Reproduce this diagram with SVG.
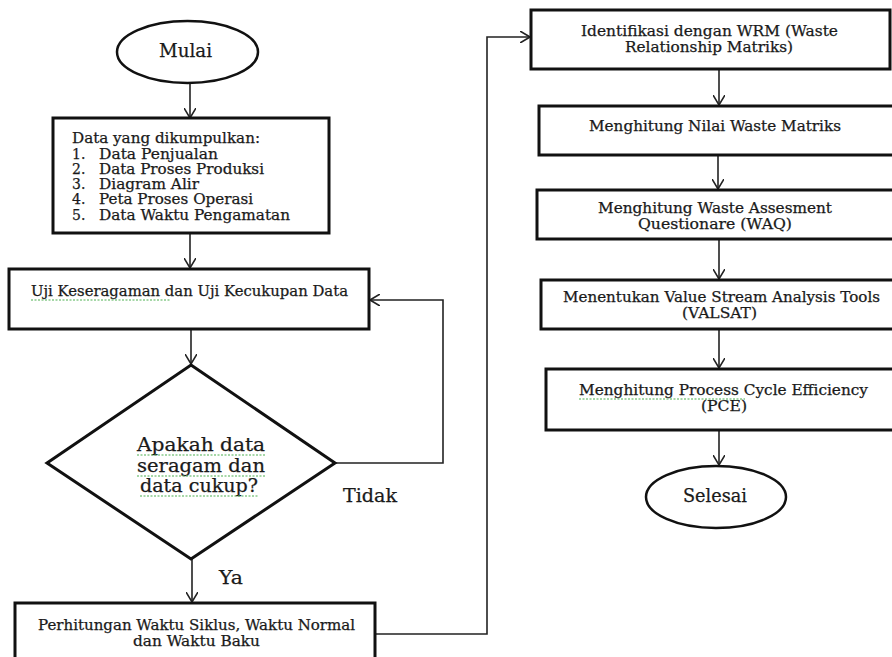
<svg xmlns="http://www.w3.org/2000/svg" width="892" height="657" viewBox="0 0 892 657">
<style>
.box{fill:#fff;stroke:#111;stroke-width:3}
.term{fill:#fff;stroke:#111;stroke-width:2.5}
.conn{fill:none;stroke:#222;stroke-width:1.6}
.t{font-family:"DejaVu Serif","Liberation Serif",serif;font-size:14px;fill:#1a1a1a;stroke:#1a1a1a;stroke-width:0.25}
.big{font-size:18px}
.sq{fill:none;stroke:#4caf50;stroke-width:1.2;stroke-dasharray:2 1.5}
</style>
<defs>
<marker id="arr" viewBox="0 0 10 12" refX="10" refY="6" markerWidth="10" markerHeight="12" markerUnits="userSpaceOnUse" orient="auto">
<path d="M0,0 L10,6 L0,12" fill="none" stroke="#222" stroke-width="1.6"/>
</marker>
</defs>
<rect width="892" height="657" fill="#fff"/>

<g id="connectors">
<line class="conn" x1="190" y1="83" x2="190" y2="118" marker-end="url(#arr)"/>
<line class="conn" x1="190" y1="233" x2="190" y2="268" marker-end="url(#arr)"/>
<line class="conn" x1="191" y1="329" x2="191" y2="364" marker-end="url(#arr)"/>
<line class="conn" x1="192" y1="559" x2="192" y2="602" marker-end="url(#arr)"/>
<polyline class="conn" points="335,463 443,463 443,300 370,300" marker-end="url(#arr)"/>
<polyline class="conn" points="375,634 487,634 487,37 530,37" marker-end="url(#arr)"/>
<line class="conn" x1="719" y1="69" x2="719" y2="105" marker-end="url(#arr)"/>
<line class="conn" x1="718" y1="155" x2="718" y2="189" marker-end="url(#arr)"/>
<line class="conn" x1="719" y1="239" x2="719" y2="279" marker-end="url(#arr)"/>
<line class="conn" x1="719" y1="329" x2="719" y2="368" marker-end="url(#arr)"/>
<line class="conn" x1="719" y1="430" x2="719" y2="465" marker-end="url(#arr)"/>
<text class="t big" x="343" y="502" textLength="54" lengthAdjust="spacingAndGlyphs">Tidak</text>
<text class="t big" x="219" y="584" textLength="24" lengthAdjust="spacingAndGlyphs">Ya</text>
</g>

<g id="mulai">
<ellipse class="term" cx="187.5" cy="52" rx="70.5" ry="31"/>
<text class="t big" x="159" y="57" textLength="53" lengthAdjust="spacingAndGlyphs">Mulai</text>
</g>

<g id="data">
<rect class="box" x="53" y="118" width="276" height="115"/>
<text class="t" x="72" y="143" textLength="188" lengthAdjust="spacingAndGlyphs">Data yang dikumpulkan:</text>
<text class="t" x="72" y="159">1.</text><text class="t" x="99" y="159" textLength="119" lengthAdjust="spacingAndGlyphs">Data Penjualan</text>
<text class="t" x="72" y="174">2.</text><text class="t" x="99" y="174" textLength="165" lengthAdjust="spacingAndGlyphs">Data Proses Produksi</text>
<text class="t" x="72" y="189">3.</text><text class="t" x="99" y="189" textLength="100" lengthAdjust="spacingAndGlyphs">Diagram Alir</text>
<text class="t" x="72" y="204">4.</text><text class="t" x="99" y="204" textLength="154" lengthAdjust="spacingAndGlyphs">Peta Proses Operasi</text>
<text class="t" x="72" y="220">5.</text><text class="t" x="99" y="220" textLength="191" lengthAdjust="spacingAndGlyphs">Data Waktu Pengamatan</text>
</g>

<g id="uji">
<rect class="box" x="9" y="269" width="360" height="60"/>
<text class="t" x="31" y="296" textLength="317" lengthAdjust="spacingAndGlyphs">Uji Keseragaman dan Uji Kecukupan Data</text>
<path class="sq" d="M31,300 L170,300"/>
</g>

<g id="keputusan">
<polygon class="box" points="191,365 335,463 191,559 47,463"/>
<text class="t big" x="137" y="451" textLength="128" lengthAdjust="spacingAndGlyphs">Apakah data</text>
<text class="t big" x="137" y="472" textLength="128" lengthAdjust="spacingAndGlyphs">seragam dan</text>
<text class="t big" x="140" y="492" textLength="118" lengthAdjust="spacingAndGlyphs">data cukup?</text>
<path class="sq" d="M137,455 L265,455 M137,476 L265,476 M140,496 L258,496"/>
</g>

<g id="perhitungan">
<rect class="box" x="15" y="603" width="360" height="70"/>
<text class="t" x="38" y="630" textLength="317" lengthAdjust="spacingAndGlyphs">Perhitungan Waktu Siklus, Waktu Normal</text>
<text class="t" x="133" y="646" textLength="127" lengthAdjust="spacingAndGlyphs">dan Waktu Baku</text>
</g>

<g id="wrm">
<rect class="box" x="531" y="10" width="359" height="59"/>
<text class="t" x="581" y="36" textLength="257" lengthAdjust="spacingAndGlyphs">Identifikasi dengan WRM (Waste</text>
<text class="t" x="625" y="52" textLength="168" lengthAdjust="spacingAndGlyphs">Relationship Matriks)</text>
</g>

<g id="nilai">
<rect class="box" x="539" y="106" width="356" height="49"/>
<text class="t" x="589" y="131" textLength="252" lengthAdjust="spacingAndGlyphs">Menghitung Nilai Waste Matriks</text>
</g>

<g id="waq">
<rect class="box" x="537" y="190" width="358" height="49"/>
<text class="t" x="598" y="213" textLength="234" lengthAdjust="spacingAndGlyphs">Menghitung Waste Assesment</text>
<text class="t" x="638" y="229" textLength="154" lengthAdjust="spacingAndGlyphs">Questionare (WAQ)</text>
</g>

<g id="valsat">
<rect class="box" x="541" y="280" width="354" height="49"/>
<text class="t" x="563" y="302" textLength="317" lengthAdjust="spacingAndGlyphs">Menentukan Value Stream Analysis Tools</text>
<text class="t" x="682" y="318" textLength="75" lengthAdjust="spacingAndGlyphs">(VALSAT)</text>
</g>

<g id="pce">
<rect class="box" x="546" y="369" width="349" height="61"/>
<text class="t" x="579" y="395" textLength="289" lengthAdjust="spacingAndGlyphs">Menghitung Process Cycle Efficiency</text>
<text class="t" x="701" y="411" textLength="46" lengthAdjust="spacingAndGlyphs">(PCE)</text>
<path class="sq" d="M579,399 L745,399"/>
</g>

<g id="selesai">
<ellipse class="term" cx="716" cy="497" rx="70" ry="31"/>
<text class="t big" x="683" y="502" textLength="64" lengthAdjust="spacingAndGlyphs">Selesai</text>
</g>
</svg>
